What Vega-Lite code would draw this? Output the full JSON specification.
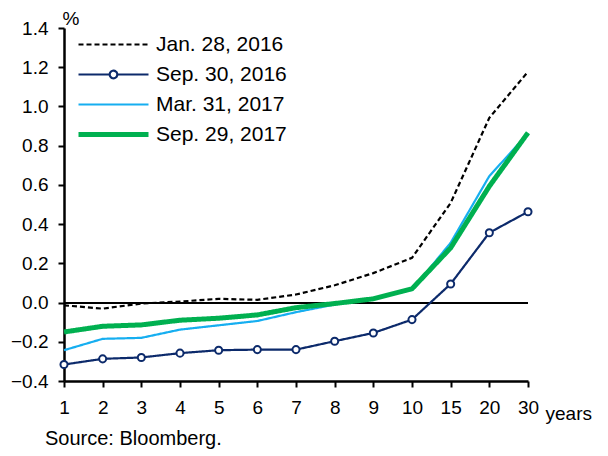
{
  "$schema": "https://vega.github.io/schema/vega-lite/v6.json",
  "autosize": "none",
  "width": 464,
  "height": 353,
  "padding": {"left": 64, "top": 28, "right": 80, "bottom": 75},
  "background": "white",
  "config": {
    "font": "Liberation Sans",
    "view": {"stroke": null},
    "axis": {"grid": false, "domainColor": "black", "tickColor": "black", "labelColor": "black", "titleColor": "black", "labelFont": "Liberation Sans", "titleFont": "Liberation Sans", "labelFontSize": 19, "titleFontSize": 19, "titleFontWeight": "normal", "domainWidth": 2.5, "tickWidth": 2, "tickSize": 6}
  },
  "title": {"text": "Source: Bloomberg.", "orient": "bottom", "anchor": "start", "frame": "group", "dx": -19, "offset": 6, "fontSize": 20, "fontWeight": "normal", "font": "Liberation Sans", "color": "black"},
  "data": {"values": [
    {"term": "1", "series": "Jan. 28, 2016", "value": -0.014},
    {"term": "2", "series": "Jan. 28, 2016", "value": -0.031},
    {"term": "3", "series": "Jan. 28, 2016", "value": -0.005},
    {"term": "4", "series": "Jan. 28, 2016", "value": 0.005},
    {"term": "5", "series": "Jan. 28, 2016", "value": 0.019},
    {"term": "6", "series": "Jan. 28, 2016", "value": 0.014},
    {"term": "7", "series": "Jan. 28, 2016", "value": 0.041},
    {"term": "8", "series": "Jan. 28, 2016", "value": 0.088},
    {"term": "9", "series": "Jan. 28, 2016", "value": 0.15},
    {"term": "10", "series": "Jan. 28, 2016", "value": 0.228},
    {"term": "15", "series": "Jan. 28, 2016", "value": 0.508},
    {"term": "20", "series": "Jan. 28, 2016", "value": 0.942},
    {"term": "30", "series": "Jan. 28, 2016", "value": 1.177},
    {"term": "1", "series": "Sep. 30, 2016", "value": -0.316},
    {"term": "2", "series": "Sep. 30, 2016", "value": -0.287},
    {"term": "3", "series": "Sep. 30, 2016", "value": -0.28},
    {"term": "4", "series": "Sep. 30, 2016", "value": -0.258},
    {"term": "5", "series": "Sep. 30, 2016", "value": -0.243},
    {"term": "6", "series": "Sep. 30, 2016", "value": -0.24},
    {"term": "7", "series": "Sep. 30, 2016", "value": -0.24},
    {"term": "8", "series": "Sep. 30, 2016", "value": -0.197},
    {"term": "9", "series": "Sep. 30, 2016", "value": -0.155},
    {"term": "10", "series": "Sep. 30, 2016", "value": -0.087},
    {"term": "15", "series": "Sep. 30, 2016", "value": 0.095},
    {"term": "20", "series": "Sep. 30, 2016", "value": 0.356},
    {"term": "30", "series": "Sep. 30, 2016", "value": 0.463},
    {"term": "1", "series": "Mar. 31, 2017", "value": -0.243},
    {"term": "2", "series": "Mar. 31, 2017", "value": -0.185},
    {"term": "3", "series": "Mar. 31, 2017", "value": -0.18},
    {"term": "4", "series": "Mar. 31, 2017", "value": -0.138},
    {"term": "5", "series": "Mar. 31, 2017", "value": -0.116},
    {"term": "6", "series": "Mar. 31, 2017", "value": -0.094},
    {"term": "7", "series": "Mar. 31, 2017", "value": -0.049},
    {"term": "8", "series": "Mar. 31, 2017", "value": -0.01},
    {"term": "9", "series": "Mar. 31, 2017", "value": 0.02},
    {"term": "10", "series": "Mar. 31, 2017", "value": 0.065},
    {"term": "15", "series": "Mar. 31, 2017", "value": 0.305},
    {"term": "20", "series": "Mar. 31, 2017", "value": 0.645},
    {"term": "30", "series": "Mar. 31, 2017", "value": 0.862},
    {"term": "1", "series": "Sep. 29, 2017", "value": -0.15},
    {"term": "2", "series": "Sep. 29, 2017", "value": -0.121},
    {"term": "3", "series": "Sep. 29, 2017", "value": -0.114},
    {"term": "4", "series": "Sep. 29, 2017", "value": -0.09},
    {"term": "5", "series": "Sep. 29, 2017", "value": -0.08},
    {"term": "6", "series": "Sep. 29, 2017", "value": -0.063},
    {"term": "7", "series": "Sep. 29, 2017", "value": -0.026},
    {"term": "8", "series": "Sep. 29, 2017", "value": -0.005},
    {"term": "9", "series": "Sep. 29, 2017", "value": 0.019},
    {"term": "10", "series": "Sep. 29, 2017", "value": 0.07},
    {"term": "15", "series": "Sep. 29, 2017", "value": 0.279},
    {"term": "20", "series": "Sep. 29, 2017", "value": 0.593},
    {"term": "30", "series": "Sep. 29, 2017", "value": 0.866}
  ]},
  "encoding": {
    "x": {"field": "term", "type": "ordinal", "sort": ["1","2","3","4","5","6","7","8","9","10","15","20","30"],
      "scale": {"type": "point", "padding": 0},
      "axis": {"title": "years", "titleAngle": 0, "titleX": 481, "titleY": 38, "titleAlign": "left", "titleBaseline": "alphabetic", "labelAngle": 0, "labelPadding": 11, "labelFlush": false}},
    "y": {"field": "value", "type": "quantitative",
      "scale": {"domain": [-0.4, 1.4], "nice": false, "zero": false},
      "axis": {"values": [-0.4,-0.2,0,0.2,0.4,0.6,0.8,1.0,1.2,1.4], "format": ".1f", "title": "%", "titleAngle": 0, "titleX": -2, "titleY": -4, "titleAlign": "left", "titleBaseline": "alphabetic", "labelPadding": 10}}
  },
  "layer": [
    {
      "mark": {"type": "rule", "color": "black", "strokeWidth": 1.2},
      "encoding": {"y": {"datum": 0}, "x": {"value": 0}, "x2": {"value": 464}}
    },
    {
      "mark": {"type": "line"},
      "encoding": {
        "color": {"field": "series", "type": "nominal", "sort": ["Jan. 28, 2016", "Sep. 30, 2016", "Mar. 31, 2017", "Sep. 29, 2017"],
          "scale": {"domain": ["Jan. 28, 2016", "Sep. 30, 2016", "Mar. 31, 2017", "Sep. 29, 2017"], "range": ["#000000", "#0c2a6b", "#16aef0", "#00b050"]},
          "legend": {"title": null, "orient": "none", "legendX": 39, "legendY": 6, "labelFontSize": 21, "labelFont": "Liberation Sans", "labelColor": "black", "symbolSize": 400, "rowPadding": 8, "labelOffset": 32,
            "encode": {"symbols": {"update": {"fill": {"value": "white"}, "strokeWidth": {"signal": "datum.value === 'Sep. 29, 2017' ? 5 : 2.2"}}}}}},
        "strokeDash": {"field": "series", "type": "nominal",
          "scale": {"domain": ["Jan. 28, 2016", "Sep. 30, 2016", "Mar. 31, 2017", "Sep. 29, 2017"], "range": [[5, 3], [1, 0], [1, 0], [1, 0]]}},
        "strokeWidth": {"condition": {"test": "datum.series === 'Sep. 29, 2017'", "value": 5}, "value": 2.2}
      }
    },
    {
      "transform": [{"filter": "datum.series === 'Sep. 30, 2016'"}],
      "mark": {"type": "point", "filled": true, "fill": "white", "stroke": "#0c2a6b", "strokeWidth": 2, "size": 50, "opacity": 1, "shape": "circle"}
    },
    {
      "transform": [{"filter": "datum.value > 5"}],
      "mark": {"type": "point", "filled": false},
      "encoding": {
        "shape": {"field": "series", "type": "nominal",
          "scale": {"domain": ["Jan. 28, 2016", "Sep. 30, 2016", "Mar. 31, 2017", "Sep. 29, 2017"], "range": ["M-3.5,0H3.5", "M-3.5,0H-0.38M0.38,0H3.5M-0.38,0A0.38,0.38,0,1,1,0.38,0A0.38,0.38,0,1,1,-0.38,0Z", "M-3.5,0H3.5", "M-3.5,0H3.5"]}},
        "color": {"field": "series", "type": "nominal"},
        "strokeDash": {"field": "series", "type": "nominal"}
      }
    }
  ]
}
